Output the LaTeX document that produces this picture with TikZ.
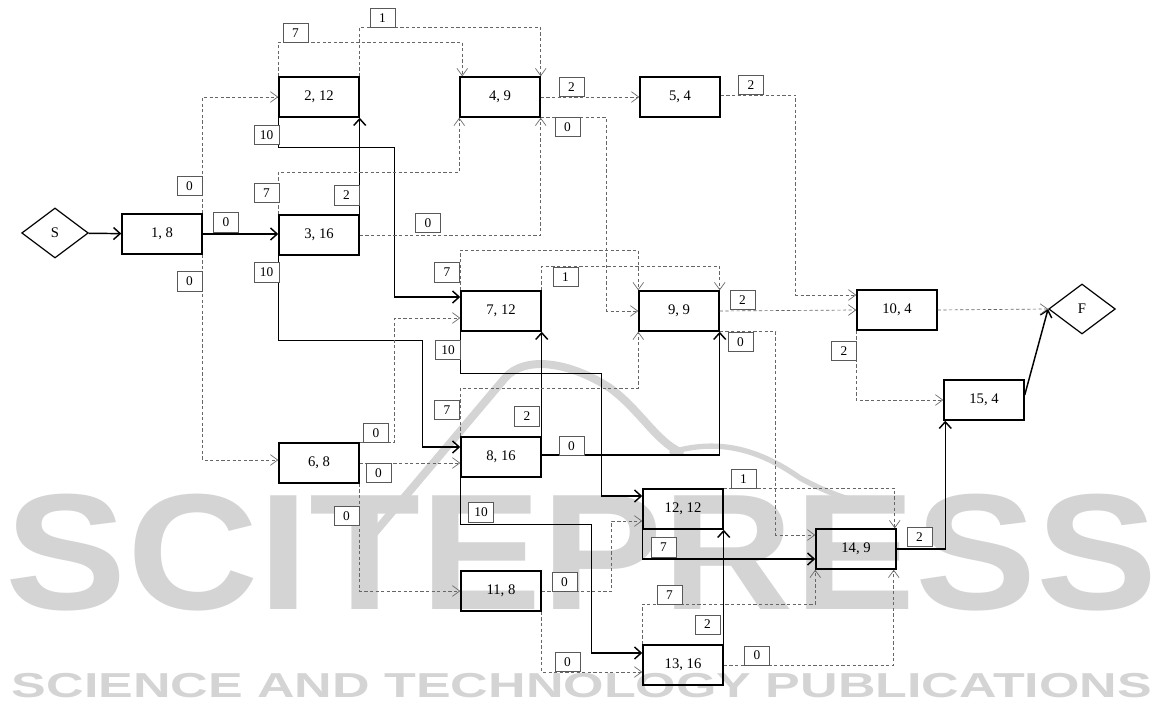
\documentclass[tikz,border=0pt]{standalone}
\usepackage{fontspec}
\setmainfont{Liberation Serif}
\newfontfamily\wmfont{Liberation Sans}
\usetikzlibrary{arrows.meta, calc, shapes.geometric}

\begin{document}
\begin{tikzpicture}[
    x=0.75pt, y=-0.75pt,
    task/.style={rectangle, draw, line width=1.1pt, minimum width=60pt, minimum height=30pt, inner sep=0pt, font=\fontsize{11}{13}\selectfont},
    term/.style={diamond, draw, line width=0.9pt, minimum width=50pt, minimum height=37.5pt, inner sep=0pt, font=\fontsize{11}{13}\selectfont},
    crit/.style={line width=1.1pt, -{Straight Barb[length=5pt, width=9pt]}},
    slack/.style={draw=black!60, line width=0.5pt, dash pattern=on 2.4pt off 1.8pt, -{Straight Barb[length=5.5pt, width=8pt]}},
    lag/.style={draw=black!65, line width=0.5pt, fill=white, minimum width=18.5pt, minimum height=14.5pt, inner sep=0pt, font=\fontsize{10}{12}\selectfont},
    wm/.style={text=black!17, inner sep=0pt}
  ]
  \useasboundingbox (0,0) rectangle (1164,705);

  % watermark
  \node[wm] (wmtitle) at (582,553) {\scalebox{1.1}[1]{\wmfont\bfseries\fontsize{124}{124}\selectfont SCITEPRESS}};
  \node[wm] (wmsub) at (582,686) {\scalebox{1.5}[1]{\wmfont\bfseries\fontsize{26}{26}\selectfont SCIENCE AND TECHNOLOGY PUBLICATIONS}};
  \draw[black!17, line width=6pt, line cap=round] (360,550) -- (505,378)
    .. controls (525,355) and (570,362) .. (610,388)
    .. controls (640,410) and (655,440) .. (680,452);
  \draw[black!17, line width=4pt, line cap=round] (672,452)
    .. controls (720,438) and (760,450) .. (800,478)
    .. controls (840,500) and (870,505) .. (895,510);

  \node[term] (S) at (55,233) {S};
  \node[task] (n1) at (162,234) {1, 8};
  \node[task] (n2) at (319,97) {2, 12};
  \node[task] (n3) at (319,235) {3, 16};
  \node[task] (n4) at (500,97) {4, 9};
  \node[task] (n5) at (680,97) {5, 4};
  \node[task] (n6) at (319,463) {6, 8};
  \node[task] (n7) at (501,311) {7, 12};
  \node[task] (n8) at (501,457) {8, 16};
  \node[task] (n9) at (679,311) {9, 9};
  \node[task] (n10) at (897,310) {10, 4};
  \node[task] (n11) at (501,591) {11, 8};
  \node[task] (n12) at (683,509) {12, 12};
  \node[task] (n13) at (683,665) {13, 16};
  \node[task] (n14) at (856,549) {14, 9};
  \node[task] (n15) at (984,400) {15, 4};
  \node[term] (F) at (1082,309) {F};

  % critical links
  \draw[crit] (S) -- (n1);
  \draw[crit] (n1.east) -- (n1.east -| n3.west);
  \draw[crit] (n3.north east) -- (n2.south east);
  \draw[crit] (n2.south west) -- ++(0,30) -- ++(116,0) |- ($(n7.west)+(0,-14)$);
  \draw[crit] (n3.south west) -- ++(0,85) -- ++(144,0) |- ($(n8.west)+(0,-10)$);
  \draw[crit] (n7.south west) -- ++(0,42) -- ++(141,0) |- ($(n12.west)+(0,-13)$);
  \draw[crit] (n8.north east) -- (n7.south east);
  \draw[crit] ($(n8.east)+(0,-2)$) -| (n9.south east);
  \draw[crit] (n8.south west) -- ++(0,47) -- ++(131,0) |- ($(n13.west)+(0,-12)$);
  \draw[crit] (n12.south west) |- ($(n14.west)+(0,10)$);
  \draw[crit] (n13.north east) -- (n12.south east);
  \draw[crit] (n14.east) -| ($(n15.south west)+(2,0)$);
  \draw[crit] ($(n15.east)+(0,-5)$) -- (F.west);

  % slack links
  \draw[slack] (n1.north east) |- (n2.west);
  \draw[slack] (n1.south east) |- ($(n6.west)+(0,-3)$);
  \draw[slack] (n2.north west) -- ++(0,-34) -| ($(n4.north west)+(3,0)$);
  \draw[slack] (n2.north east) -- ++(0,-49) -| (n4.north east);
  \draw[slack] (n3.north west) -- ++(0,-42) -| (n4.south west);
  \draw[slack] (n3.east) -| (n4.south east);
  \draw[slack] (n4.east) -- (n5.west);
  \draw[slack] (n4.south east) -- ++(66,0) |- (n9.west);
  \draw[slack] ($(n5.east)+(0,-2)$) -- ++(75,0) |- ($(n10.west)+(0,-15)$);
  \draw[slack] (n7.north west) -- ++(0,-40) -| (n9.north west);
  \draw[slack] (n7.north east) -- ++(0,-24) -| (n9.north east);
  \draw[slack] (n8.north west) -- ++(0,-48) -| (n9.south west);
  \draw[slack] (n6.north east) -- ++(35,0) |- ($(n7.west)+(0,7)$);
  \draw[slack] (n6.east) -- (n6.east -| n8.west);
  \draw[slack] (n6.south east) |- (n11.west);
  \draw[slack] (n11.east) -- ++(70,0) |- ($(n12.west)+(0,12)$);
  \draw[slack] (n11.south east) |- ($(n13.west)+(0,7)$);
  \draw[slack] (n9.east) -- (n10.west);
  \draw[slack] (n9.south east) -- ++(56,0) |- ($(n14.west)+(0,-14)$);
  \draw[slack] (n12.north east) -| ($(n14.north east)+(-2,0)$);
  \draw[slack] (n13.north west) -- ++(0,-40) -| (n14.south west);
  \draw[slack] (n13.east) -| ($(n14.south east)+(-3,0)$);
  \draw[slack] (n10.east) -- (F.west);
  \draw[slack] (n10.south west) |- (n15.west);

  % lags
  \node[lag] (l13) at (226,222.5) {0};
  \node[lag] (l32) at (346.5,195.5) {2};
  \node[lag] (l27) at (266.5,135) {10};
  \node[lag] (l38) at (266.5,272.5) {10};
  \node[lag] (l712) at (448,350) {10};
  \node[lag] (l87) at (527,416.5) {2};
  \node[lag] (l89) at (571.5,446) {0};
  \node[lag] (l813) at (481,512.5) {10};
  \node[lag] (l1214) at (663.5,547.5) {7};
  \node[lag] (l1312) at (707.5,624.5) {2};
  \node[lag] (l1415) at (919.5,537) {2};
  \node[lag] (l12) at (189.5,186) {0};
  \node[lag] (l16) at (189.5,281.5) {0};
  \node[lag] (l24a) at (295.5,33) {7};
  \node[lag] (l24b) at (382.5,18) {1};
  \node[lag] (l34a) at (266.5,193) {7};
  \node[lag] (l34b) at (428,223) {0};
  \node[lag] (l45) at (571.5,87) {2};
  \node[lag] (l49) at (567.5,127) {0};
  \node[lag] (l510) at (751,85) {2};
  \node[lag] (l79a) at (447,272.5) {7};
  \node[lag] (l79b) at (565.5,277) {1};
  \node[lag] (l89b) at (447,410) {7};
  \node[lag] (l67) at (376,433) {0};
  \node[lag] (l68) at (378.5,473) {0};
  \node[lag] (l611) at (346.5,516) {0};
  \node[lag] (l1112) at (564.5,582) {0};
  \node[lag] (l1113) at (567.5,662) {0};
  \node[lag] (l910) at (742.5,300) {2};
  \node[lag] (l914) at (740.5,342) {0};
  \node[lag] (l1214b) at (743.5,479) {1};
  \node[lag] (l1314a) at (669.5,595) {7};
  \node[lag] (l1314b) at (757,655.5) {0};
  \node[lag] (l1015) at (844,351) {2};
\end{tikzpicture}
\end{document}
